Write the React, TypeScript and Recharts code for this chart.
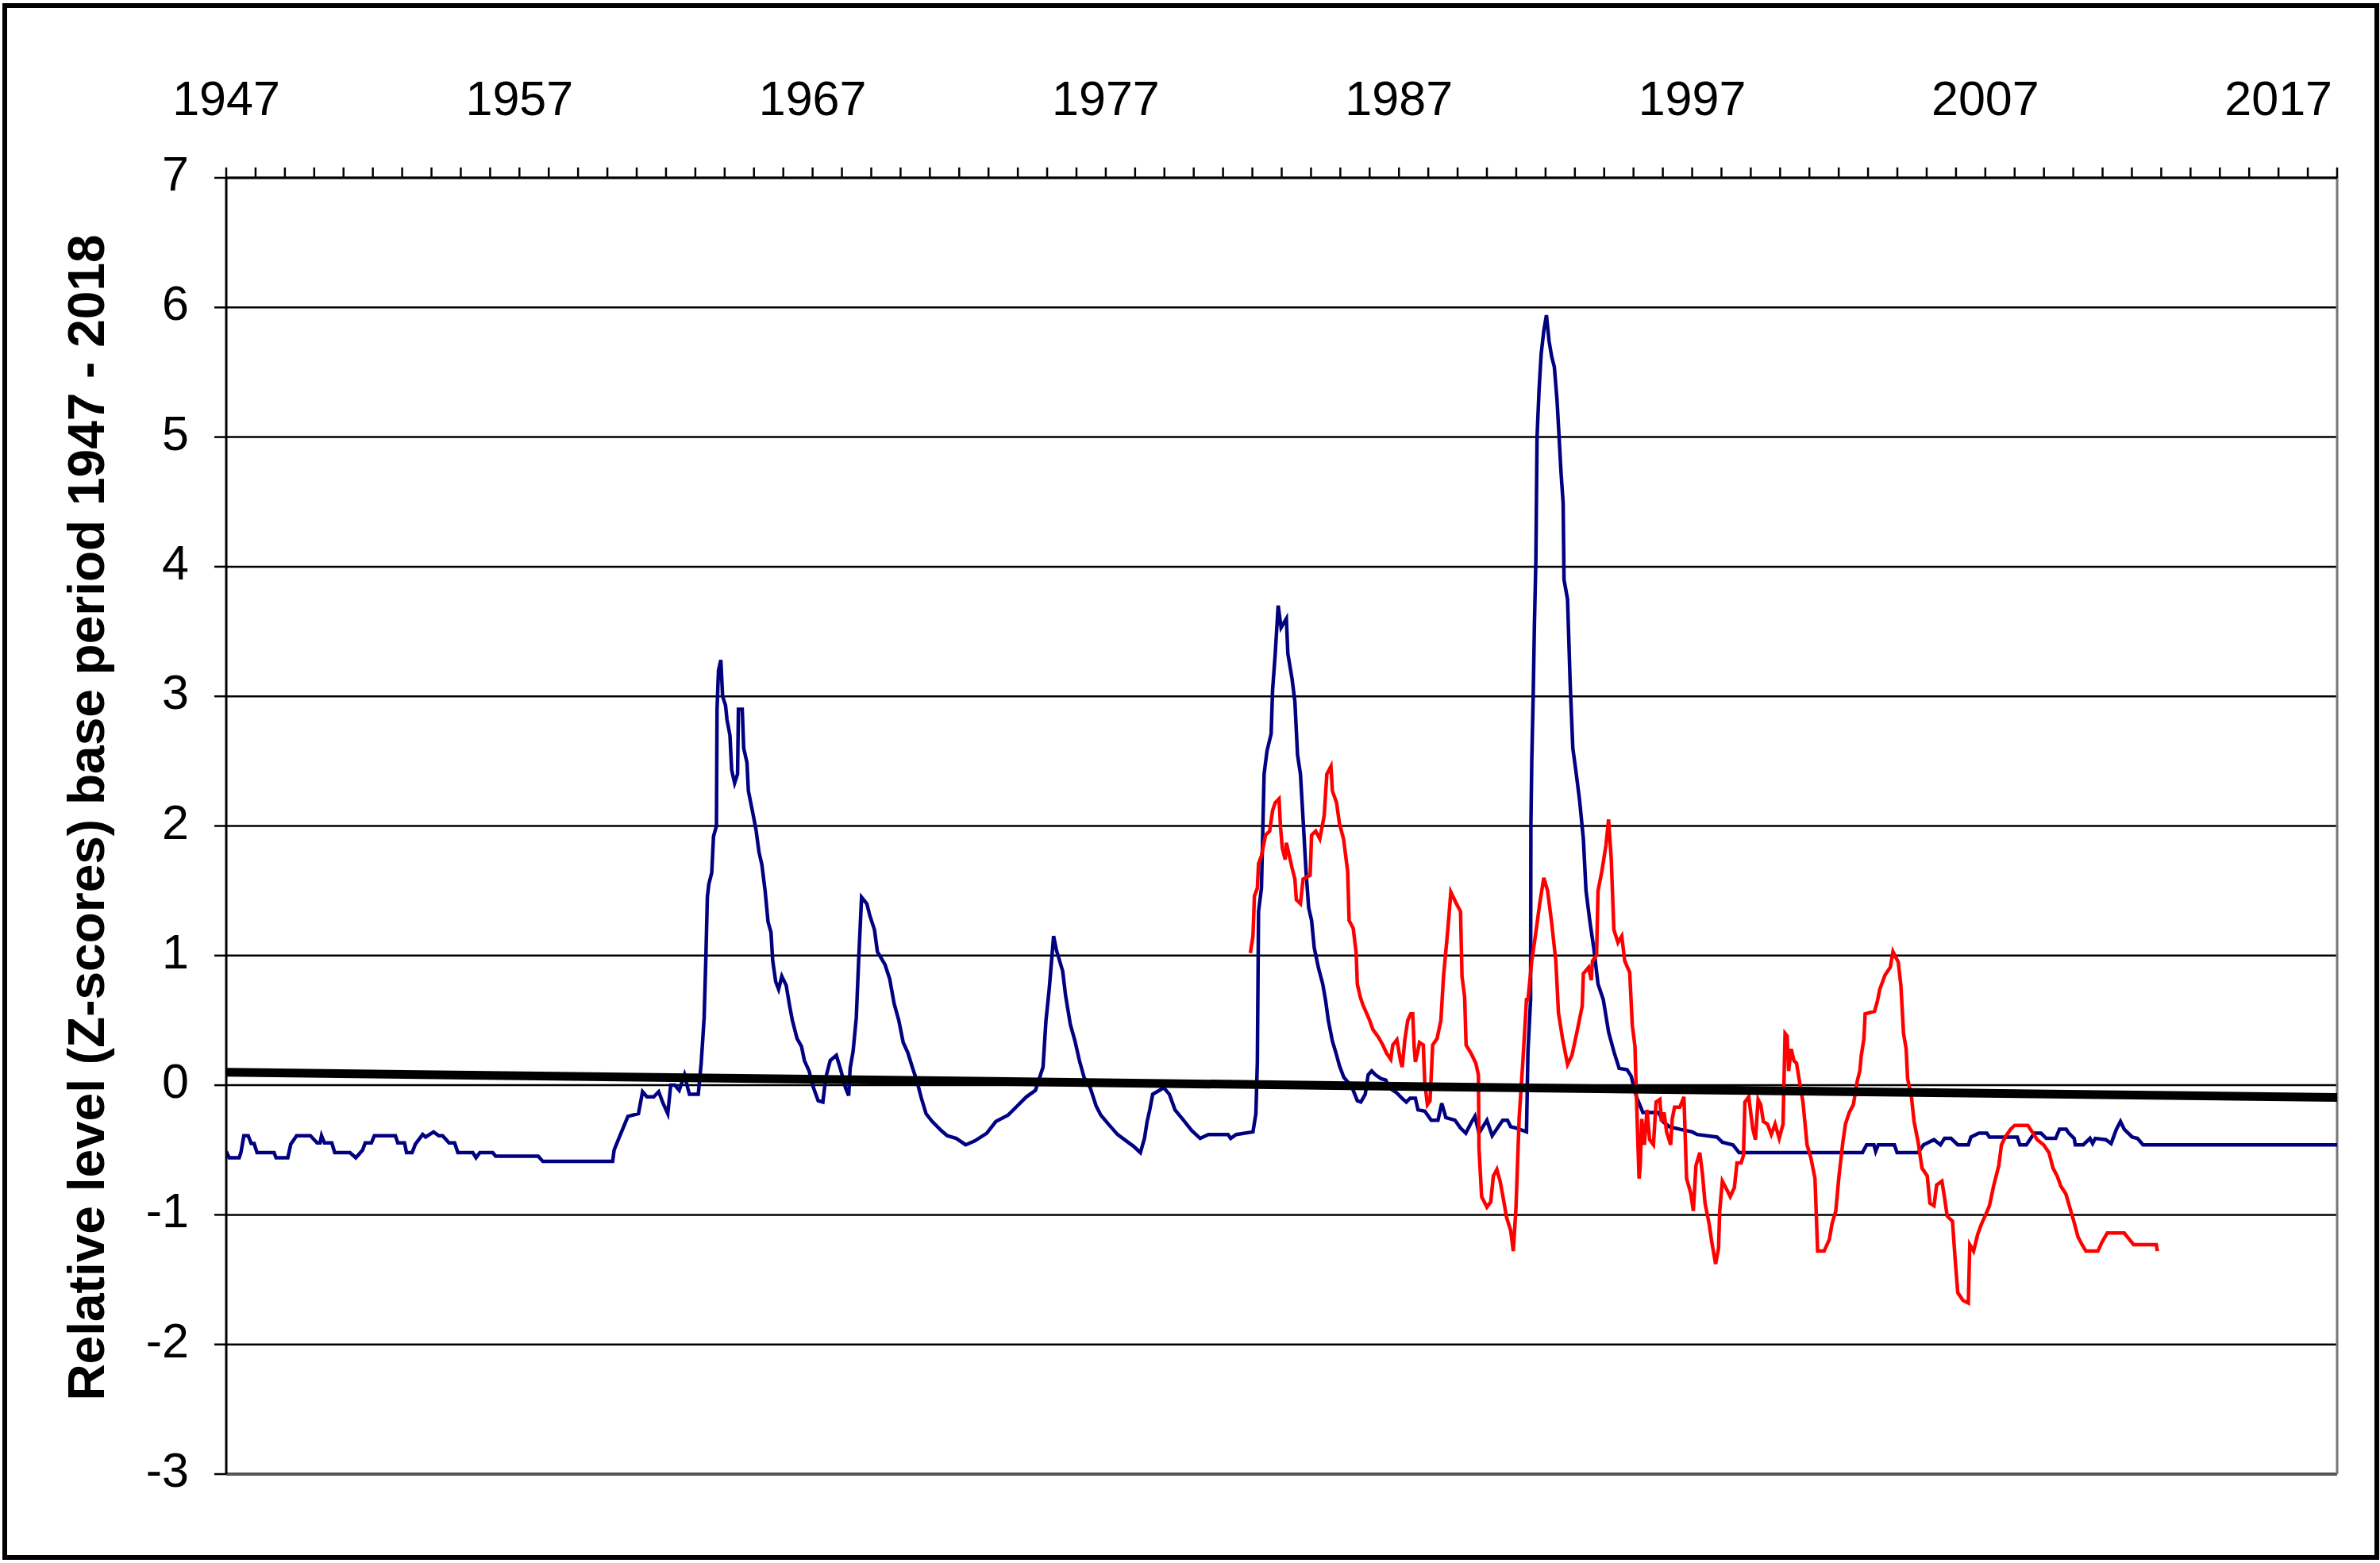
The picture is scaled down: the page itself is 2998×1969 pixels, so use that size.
import { LineChart, Line, XAxis, YAxis, CartesianGrid, ReferenceLine, Label } from "recharts";

// top axis: one tick per year, a label every ten years
const yearTicks = Array.from({ length: 73 }, (_, i) => 1947 + i);
const labelYears = [1947, 1957, 1967, 1977, 1987, 1997, 2007, 2017];
const yTicks = [-3, -2, -1, 0, 1, 2, 3, 4, 5, 6, 7];

const FONT = "'Liberation Sans', Arial, sans-serif";
const TITLE = "Relative level (Z-scores) base period 1947 - 2018";

// [year, z-score]
const blueSeries: [number, number][] = [
  [1947.0, -0.51], [1947.1, -0.56], [1947.44, -0.56], [1947.5, -0.52], [1947.6, -0.39],
  [1947.75, -0.39], [1947.85, -0.45], [1947.95, -0.45], [1948.05, -0.52], [1948.63, -0.52],
  [1948.7, -0.56], [1949.1, -0.56], [1949.2, -0.455], [1949.4, -0.39], [1949.87, -0.39],
  [1950.1, -0.445], [1950.2, -0.445], [1950.25, -0.39], [1950.35, -0.445], [1950.6, -0.445],
  [1950.7, -0.52], [1951.22, -0.52], [1951.42, -0.56], [1951.65, -0.5], [1951.74, -0.445],
  [1951.95, -0.445], [1952.05, -0.39], [1952.77, -0.39], [1952.85, -0.445], [1953.08, -0.445],
  [1953.15, -0.52], [1953.34, -0.52], [1953.45, -0.455], [1953.7, -0.38], [1953.8, -0.4],
  [1954.07, -0.36], [1954.25, -0.39], [1954.38, -0.39], [1954.6, -0.445], [1954.79, -0.445],
  [1954.9, -0.52], [1955.41, -0.52], [1955.52, -0.56], [1955.65, -0.52], [1956.09, -0.52],
  [1956.19, -0.547], [1957.64, -0.547], [1957.8, -0.588], [1960.18, -0.588], [1960.23, -0.5],
  [1960.39, -0.41], [1960.7, -0.24], [1961.06, -0.22], [1961.2, -0.05], [1961.35, -0.09],
  [1961.58, -0.09], [1961.75, -0.05], [1961.9, -0.14], [1962.06, -0.22], [1962.16, 0.0],
  [1962.3, 0.0], [1962.45, -0.04], [1962.63, 0.08], [1962.75, -0.03], [1962.8, -0.07],
  [1963.1, -0.07], [1963.2, 0.17], [1963.3, 0.52], [1963.36, 0.99], [1963.41, 1.45],
  [1963.46, 1.55], [1963.56, 1.64], [1963.62, 1.92], [1963.72, 2.0], [1963.74, 2.9],
  [1963.79, 3.2], [1963.87, 3.28], [1963.93, 3.0], [1964.03, 2.93], [1964.08, 2.82],
  [1964.18, 2.7], [1964.24, 2.43], [1964.34, 2.33], [1964.44, 2.4], [1964.47, 2.9],
  [1964.6, 2.9], [1964.65, 2.6], [1964.76, 2.49], [1964.81, 2.27], [1964.96, 2.1],
  [1965.07, 1.97], [1965.17, 1.8], [1965.27, 1.7], [1965.38, 1.5], [1965.48, 1.26],
  [1965.58, 1.18], [1965.64, 0.96], [1965.74, 0.8], [1965.84, 0.74], [1965.95, 0.84],
  [1966.1, 0.77], [1966.21, 0.62], [1966.31, 0.5], [1966.47, 0.36], [1966.62, 0.3],
  [1966.72, 0.19], [1966.88, 0.11], [1967.03, -0.02], [1967.19, -0.12], [1967.35, -0.13],
  [1967.45, 0.06], [1967.6, 0.19], [1967.81, 0.23], [1967.97, 0.11], [1968.12, -0.02],
  [1968.23, -0.08], [1968.28, 0.13], [1968.38, 0.26], [1968.49, 0.52], [1968.57, 0.96],
  [1968.67, 1.45], [1968.85, 1.4], [1968.95, 1.31], [1969.11, 1.2], [1969.21, 1.03],
  [1969.47, 0.93], [1969.63, 0.82], [1969.78, 0.63], [1969.94, 0.5], [1970.09, 0.33],
  [1970.25, 0.25], [1970.4, 0.14], [1970.56, 0.03], [1970.71, -0.1], [1970.87, -0.22],
  [1971.08, -0.28], [1971.39, -0.35], [1971.59, -0.39], [1971.9, -0.41], [1972.22, -0.46],
  [1972.53, -0.43], [1972.94, -0.37], [1973.25, -0.28], [1973.67, -0.23], [1973.98, -0.16],
  [1974.29, -0.09], [1974.6, -0.04], [1974.86, 0.14], [1974.96, 0.5], [1975.07, 0.74],
  [1975.22, 1.15], [1975.32, 1.04], [1975.53, 0.88], [1975.63, 0.69], [1975.79, 0.47],
  [1975.95, 0.34], [1976.1, 0.19], [1976.26, 0.06], [1976.47, -0.02], [1976.67, -0.16],
  [1976.83, -0.23], [1977.09, -0.3], [1977.4, -0.38], [1977.7, -0.43], [1977.94, -0.47],
  [1978.18, -0.52], [1978.32, -0.41], [1978.41, -0.28], [1978.5, -0.19], [1978.6, -0.07],
  [1978.75, -0.05], [1978.98, -0.02], [1979.17, -0.07], [1979.36, -0.19], [1979.65, -0.27],
  [1979.93, -0.35], [1980.22, -0.41], [1980.5, -0.38], [1981.17, -0.38], [1981.26, -0.41],
  [1981.45, -0.38], [1982.02, -0.36], [1982.12, -0.22], [1982.17, 0.18], [1982.21, 1.34],
  [1982.31, 1.52], [1982.4, 2.4], [1982.5, 2.58], [1982.64, 2.71], [1982.69, 3.05],
  [1982.78, 3.33], [1982.88, 3.7], [1982.98, 3.53], [1983.16, 3.6], [1983.21, 3.33],
  [1983.35, 3.14], [1983.45, 2.96], [1983.54, 2.55], [1983.64, 2.4], [1983.73, 2.05],
  [1983.83, 1.65], [1983.92, 1.37], [1984.02, 1.27], [1984.11, 1.06], [1984.26, 0.9],
  [1984.4, 0.78], [1984.5, 0.65], [1984.59, 0.5], [1984.73, 0.34], [1984.85, 0.25],
  [1984.97, 0.15], [1985.12, 0.06], [1985.35, 0.0], [1985.44, -0.04], [1985.58, -0.12],
  [1985.7, -0.13], [1985.85, -0.07], [1985.95, 0.08], [1986.07, 0.11], [1986.2, 0.08],
  [1986.39, 0.05], [1986.55, 0.04], [1986.66, -0.02], [1986.93, -0.06], [1987.1, -0.1],
  [1987.25, -0.13], [1987.38, -0.1], [1987.56, -0.1], [1987.65, -0.19], [1987.88, -0.2],
  [1988.1, -0.27], [1988.33, -0.27], [1988.46, -0.14], [1988.6, -0.25], [1988.91, -0.27],
  [1989.1, -0.33], [1989.28, -0.37], [1989.46, -0.29], [1989.59, -0.24], [1989.73, -0.37],
  [1990.0, -0.27], [1990.18, -0.39], [1990.36, -0.33], [1990.54, -0.27], [1990.7, -0.27],
  [1990.81, -0.32], [1990.99, -0.33], [1991.35, -0.36], [1991.4, 0.26], [1991.49, 0.66],
  [1991.5, 2.0], [1991.53, 2.5], [1991.58, 3.02], [1991.62, 3.55], [1991.67, 4.05],
  [1991.71, 5.0], [1991.78, 5.37], [1991.85, 5.64], [1991.94, 5.82], [1992.03, 5.94],
  [1992.12, 5.74], [1992.21, 5.62], [1992.3, 5.54], [1992.39, 5.29], [1992.44, 5.09],
  [1992.53, 4.72], [1992.6, 4.49], [1992.63, 3.9], [1992.75, 3.75], [1992.84, 3.1],
  [1992.93, 2.6], [1993.02, 2.45], [1993.16, 2.2], [1993.29, 1.9], [1993.38, 1.5],
  [1993.52, 1.25], [1993.65, 1.05], [1993.79, 0.78], [1993.97, 0.66], [1994.15, 0.41],
  [1994.33, 0.26], [1994.51, 0.13], [1994.78, 0.12], [1994.92, 0.07], [1995.1, -0.09],
  [1995.32, -0.21], [1995.86, -0.21], [1996.0, -0.28], [1996.22, -0.32], [1996.59, -0.34],
  [1997.0, -0.36], [1997.17, -0.38], [1997.85, -0.4], [1998.03, -0.44], [1998.39, -0.46],
  [1998.6, -0.52], [2002.81, -0.52], [2002.95, -0.46], [2003.2, -0.46], [2003.26, -0.51],
  [2003.35, -0.46], [2003.9, -0.46], [2003.99, -0.52], [2004.71, -0.52], [2004.89, -0.46],
  [2005.25, -0.42], [2005.47, -0.46], [2005.61, -0.41], [2005.83, -0.41], [2006.06, -0.46],
  [2006.42, -0.46], [2006.51, -0.4], [2006.78, -0.37], [2007.05, -0.37], [2007.14, -0.4],
  [2008.09, -0.4], [2008.18, -0.46], [2008.4, -0.46], [2008.67, -0.37], [2008.9, -0.37],
  [2009.08, -0.41], [2009.4, -0.41], [2009.53, -0.34], [2009.76, -0.34], [2009.85, -0.37],
  [2010.03, -0.41], [2010.07, -0.46], [2010.34, -0.46], [2010.57, -0.41], [2010.66, -0.45],
  [2010.75, -0.41], [2011.11, -0.42], [2011.29, -0.45], [2011.47, -0.34], [2011.61, -0.28],
  [2011.74, -0.34], [2012.01, -0.4], [2012.19, -0.41], [2012.38, -0.46], [2019.0, -0.46],
];

const redSeries: [number, number][] = [
  [1981.93, 1.02], [1982.02, 1.15], [1982.07, 1.46], [1982.17, 1.52], [1982.21, 1.71],
  [1982.31, 1.77], [1982.45, 1.93], [1982.59, 1.96], [1982.69, 2.12], [1982.78, 2.18],
  [1982.91, 2.21], [1982.96, 1.99], [1983.02, 1.83], [1983.12, 1.74], [1983.16, 1.87],
  [1983.26, 1.77], [1983.35, 1.68], [1983.45, 1.59], [1983.5, 1.43], [1983.64, 1.4],
  [1983.73, 1.59], [1983.97, 1.62], [1984.02, 1.93], [1984.16, 1.96], [1984.3, 1.9],
  [1984.45, 2.08], [1984.54, 2.4], [1984.68, 2.46], [1984.73, 2.27], [1984.87, 2.18],
  [1984.97, 2.02], [1985.11, 1.9], [1985.25, 1.65], [1985.3, 1.27], [1985.44, 1.21],
  [1985.54, 1.02], [1985.58, 0.78], [1985.68, 0.68], [1985.77, 0.62], [1986.0, 0.5],
  [1986.11, 0.43], [1986.3, 0.37], [1986.45, 0.31], [1986.57, 0.25], [1986.72, 0.2],
  [1986.79, 0.31], [1986.93, 0.35], [1987.06, 0.18], [1987.11, 0.14], [1987.2, 0.35],
  [1987.3, 0.5], [1987.4, 0.55], [1987.47, 0.55], [1987.52, 0.29], [1987.56, 0.18],
  [1987.65, 0.27], [1987.7, 0.33], [1987.83, 0.31], [1987.88, 0.02], [1987.97, -0.15],
  [1988.06, -0.12], [1988.15, 0.31], [1988.3, 0.36], [1988.43, 0.5], [1988.52, 0.84],
  [1988.67, 1.21], [1988.77, 1.49], [1988.96, 1.4], [1989.1, 1.34], [1989.15, 0.84],
  [1989.24, 0.68], [1989.29, 0.31], [1989.45, 0.25], [1989.62, 0.17], [1989.71, 0.08],
  [1989.73, -0.49], [1989.82, -0.86], [1990.0, -0.94], [1990.13, -0.9], [1990.22, -0.7],
  [1990.34, -0.65], [1990.45, -0.74], [1990.58, -0.9], [1990.67, -1.02], [1990.81, -1.12],
  [1990.9, -1.28], [1990.99, -0.95], [1991.1, -0.25], [1991.22, 0.16], [1991.35, 0.66],
  [1991.4, 0.66], [1991.53, 0.96], [1991.67, 1.18], [1991.8, 1.4], [1991.94, 1.6],
  [1992.07, 1.5], [1992.21, 1.25], [1992.35, 0.96], [1992.44, 0.56], [1992.58, 0.36],
  [1992.75, 0.16], [1992.9, 0.23], [1993.07, 0.41], [1993.25, 0.61], [1993.29, 0.86],
  [1993.47, 0.91], [1993.56, 0.81], [1993.6, 0.96], [1993.74, 1.0], [1993.79, 1.5],
  [1993.92, 1.65], [1994.06, 1.85], [1994.15, 2.05], [1994.24, 1.75], [1994.33, 1.2],
  [1994.47, 1.1], [1994.6, 1.15], [1994.7, 0.96], [1994.87, 0.87], [1994.96, 0.46],
  [1995.05, 0.3], [1995.1, -0.09], [1995.14, -0.38], [1995.19, -0.72], [1995.23, -0.62],
  [1995.28, -0.26], [1995.37, -0.46], [1995.46, -0.19], [1995.55, -0.42], [1995.68, -0.46],
  [1995.77, -0.13], [1995.9, -0.11], [1995.95, -0.28], [1996.04, -0.21], [1996.13, -0.36],
  [1996.27, -0.46], [1996.32, -0.26], [1996.4, -0.17], [1996.58, -0.17], [1996.72, -0.09],
  [1996.81, -0.72], [1996.95, -0.83], [1997.04, -0.97], [1997.13, -0.62], [1997.26, -0.52],
  [1997.35, -0.68], [1997.44, -0.91], [1997.58, -1.07], [1997.67, -1.21], [1997.8, -1.38],
  [1997.9, -1.26], [1997.94, -0.97], [1998.03, -0.74], [1998.17, -0.8], [1998.3, -0.86],
  [1998.44, -0.79], [1998.53, -0.6], [1998.67, -0.6], [1998.75, -0.54], [1998.8, -0.13],
  [1998.93, -0.09], [1999.07, -0.34], [1999.16, -0.42], [1999.25, -0.11], [1999.34, -0.15],
  [1999.43, -0.28], [1999.57, -0.3], [1999.7, -0.38], [1999.83, -0.3], [1999.97, -0.41],
  [2000.1, -0.3], [2000.17, 0.4], [2000.24, 0.38], [2000.29, 0.11], [2000.38, 0.28],
  [2000.47, 0.19], [2000.56, 0.17], [2000.69, -0.01], [2000.78, -0.13], [2000.92, -0.46],
  [2001.05, -0.56], [2001.19, -0.72], [2001.28, -1.28], [2001.5, -1.28], [2001.68, -1.19],
  [2001.77, -1.07], [2001.9, -0.97], [2002.0, -0.72], [2002.14, -0.44], [2002.23, -0.3],
  [2002.36, -0.21], [2002.5, -0.15], [2002.63, 0.03], [2002.72, 0.11], [2002.77, 0.23],
  [2002.86, 0.36], [2002.9, 0.55], [2003.22, 0.57], [2003.31, 0.64], [2003.4, 0.74],
  [2003.58, 0.85], [2003.76, 0.91], [2003.85, 1.03], [2004.03, 0.95], [2004.12, 0.77],
  [2004.21, 0.4], [2004.3, 0.28], [2004.35, 0.05], [2004.48, -0.09], [2004.57, -0.28],
  [2004.71, -0.44], [2004.84, -0.64], [2005.02, -0.7], [2005.11, -0.91], [2005.25, -0.93],
  [2005.34, -0.77], [2005.52, -0.74], [2005.61, -0.87], [2005.7, -1.01], [2005.88, -1.05],
  [2005.97, -1.34], [2006.06, -1.6], [2006.24, -1.66], [2006.42, -1.68], [2006.47, -1.23],
  [2006.6, -1.28], [2006.74, -1.15], [2006.87, -1.07], [2007.01, -1.0], [2007.14, -0.93],
  [2007.28, -0.78], [2007.46, -0.62], [2007.55, -0.46], [2007.68, -0.4], [2007.86, -0.34],
  [2008.0, -0.31], [2008.45, -0.31], [2008.6, -0.36], [2008.77, -0.42], [2008.99, -0.46],
  [2009.17, -0.52], [2009.31, -0.64], [2009.45, -0.7], [2009.58, -0.78], [2009.75, -0.84],
  [2009.89, -0.95], [2010.02, -1.05], [2010.16, -1.17], [2010.3, -1.23], [2010.43, -1.28],
  [2010.84, -1.28], [2010.98, -1.21], [2011.16, -1.14], [2011.74, -1.14], [2011.88, -1.18],
  [2012.06, -1.23], [2012.83, -1.23], [2012.87, -1.28],
];

// linear trend of the blue series
const trendSeries: [number, number][] = [
  [1947.0, 0.1],
  [2019.0, -0.095],
];

const toRows = (pts: [number, number][]) => pts.map(([t, v]) => ({ t, v }));
const blueData = toRows(blueSeries);
const redData = toRows(redSeries);
const trendData = toRows(trendSeries);

const TopTick = (props: any) => {
  const { x, payload } = props;
  if (!labelYears.includes(payload.value)) return <g />;
  return (
    <text x={x} y={145} textAnchor="middle" fontSize={61} fontFamily={FONT} fill="#000">
      {payload.value}
    </text>
  );
};

const LeftTick = (props: any) => {
  const { x, y, payload } = props;
  return (
    <text x={x} y={y + 16} textAnchor="end" fontSize={61} fontFamily={FONT} fill="#000">
      {payload.value}
    </text>
  );
};

const YTitle = () => (
  <text
    x={131}
    y={1030}
    transform="rotate(-90 131 1030)"
    textAnchor="middle"
    fontSize={64}
    fontWeight="bold"
    fontFamily={FONT}
    fill="#000"
  >
    {TITLE}
  </text>
);

export default function App() {
  return (
    <div style={{ position: "absolute", left: 0, top: 0, width: 2998, height: 1969, background: "#fff" }}>
      <div
        style={{
          position: "absolute",
          left: 3,
          top: 4,
          width: 2994,
          height: 1961,
          border: "6px solid #000",
          boxSizing: "border-box",
        }}
      />
      <LineChart
        width={2998}
        height={1969}
        margin={{ top: 124, right: 54, bottom: 112, left: 205 }}
        style={{ position: "absolute", left: 0, top: 0 }}
      >
        <CartesianGrid vertical={false} stroke="#000" strokeWidth={2.5} />
        <XAxis
          xAxisId={0}
          orientation="top"
          type="number"
          dataKey="t"
          domain={[1947, 2019]}
          allowDataOverflow
          ticks={yearTicks}
          interval={0}
          height={100}
          tickSize={13}
          tickLine={{ stroke: "#000", strokeWidth: 2.5 }}
          axisLine={{ stroke: "#000", strokeWidth: 3 }}
          tick={<TopTick />}
        />
        <YAxis
          yAxisId={0}
          type="number"
          domain={[-3, 7]}
          ticks={yTicks}
          interval={0}
          width={80}
          tickSize={15}
          tickMargin={32}
          tickLine={{ stroke: "#000", strokeWidth: 2.5 }}
          axisLine={{ stroke: "#000", strokeWidth: 3 }}
          tick={<LeftTick />}
        >
          <Label content={<YTitle />} />
        </YAxis>
        <ReferenceLine y={-3} stroke="#555" strokeWidth={4} />
        <ReferenceLine x={2019} stroke="#777" strokeWidth={3} />
        <Line
          data={blueData}
          dataKey="v"
          type="linear"
          stroke="#000080"
          strokeWidth={4.5}
          dot={false}
          activeDot={false}
          isAnimationActive={false}
        />
        <Line
          data={redData}
          dataKey="v"
          type="linear"
          stroke="#ff0000"
          strokeWidth={4.5}
          dot={false}
          activeDot={false}
          isAnimationActive={false}
        />
        <Line
          data={trendData}
          dataKey="v"
          type="linear"
          stroke="#000"
          strokeWidth={11}
          strokeLinecap="round"
          dot={false}
          activeDot={false}
          isAnimationActive={false}
        />
      </LineChart>
    </div>
  );
}
